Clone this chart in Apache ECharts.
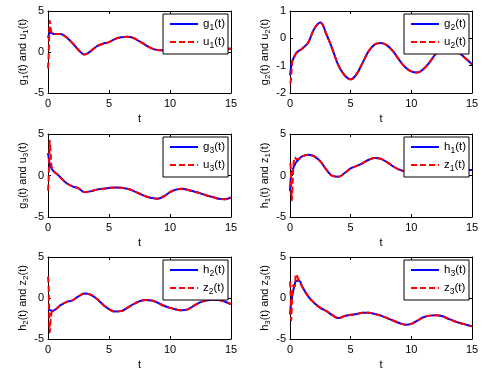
<!DOCTYPE html>
<html>
<head>
<meta charset="utf-8">
<script src="https://cdn.jsdelivr.net/npm/echarts@6/dist/echarts.min.js"></script>
<style>
html,body{margin:0;padding:0;background:#fff}
#main{width:488px;height:373px}
</style>
</head>
<body>
<div id="main"></div>
<script>
// time samples: dense near 0 for the start-up transients, then every 0.5
var tEarly = [0, 0.05, 0.1, 0.15, 0.2, 0.3, 0.4, 0.5, 0.75];
var tMain = [1, 1.5, 2, 2.5, 3, 3.5, 4, 4.5, 5, 5.5, 6, 6.5, 7, 7.5, 8, 8.5, 9, 9.5, 10,
             10.5, 11, 11.5, 12, 12.5, 13, 13.5, 14, 14.5, 15];

// g1 / u1
var g1Early = [1.7, 2.0, 2.3, 2.4, 2.35, 2.3, 2.25, 2.2, 2.2];
var u1Early = [-2.0, -0.5, 2.0, 3.8, 3.2, 2.3, 2.25, 2.2, 2.2];
var gu1Main = [2.2, 1.8, 1.1, 0.25, -0.3, 0.1, 0.7, 1.0, 1.2, 1.6, 1.8, 1.85, 1.7, 1.3, 0.85,
               0.45, 0.25, 0.2, 0.3, 0.5, 0.8, 1.0, 1.1, 1.0, 0.8, 0.6, 0.45, 0.4, 0.4];
// g2 / u2
var g2Early = [-1.35, -1.2, -1.0, -0.9, -0.82, -0.72, -0.63, -0.55, -0.45];
var u2Early = [-1.65, -1.6, -1.4, -1.0, -0.78, -0.72, -0.63, -0.55, -0.45];
var gu2Main = [-0.38, -0.15, 0.35, 0.58, 0.15, -0.4, -1.0, -1.35, -1.5, -1.3, -0.88, -0.46, -0.22,
               -0.17, -0.26, -0.48, -0.79, -1.06, -1.21, -1.25, -1.12, -0.88, -0.58, -0.4, -0.3,
               -0.35, -0.55, -0.75, -0.95];
// g3 / u3
var g3Early = [2.7, 2.2, 1.7, 1.3, 1.1, 0.8, 0.6, 0.45, 0.15];
var u3Early = [-1.8, -0.5, 2.0, 4.2, 3.0, 1.0, 0.7, 0.45, 0.15];
var gu3Main = [-0.2, -0.9, -1.3, -1.55, -2.0, -1.9, -1.7, -1.6, -1.5, -1.45, -1.48, -1.6, -1.85,
               -2.2, -2.5, -2.7, -2.8, -2.5, -2.0, -1.7, -1.6, -1.75, -1.95, -2.15, -2.4, -2.6,
               -2.8, -2.85, -2.65];
// h1 / z1
var h1Early = [-1.9, -0.6, 0.1, 0.4, 0.6, 1.0, 1.3, 1.6, 2.0];
var z1Early = [1.5, 1.2, -1.0, -3.0, -1.5, 1.5, 2.2, 2.0, 2.0];
var hz1Main = [2.3, 2.5, 2.3, 1.7, 0.7, -0.05, -0.15, 0.3, 0.85, 1.15, 1.5, 1.9, 2.1, 2.0, 1.6,
               1.1, 0.7, 0.5, 0.45, 0.6, 0.9, 1.2, 1.4, 1.4, 1.2, 1.0, 0.8, 0.7, 0.65];
// h2 / z2
var h2Early = [-1.4, -1.42, -1.45, -1.48, -1.5, -1.55, -1.55, -1.5, -1.25];
var z2Early = [2.6, 1.5, -2.0, -4.2, -3.0, -1.7, -1.6, -1.5, -1.25];
var hz2Main = [-0.9, -0.5, -0.3, 0.2, 0.55, 0.4, -0.1, -0.8, -1.35, -1.65, -1.6, -1.2, -0.75,
               -0.4, -0.25, -0.3, -0.6, -0.95, -1.2, -1.4, -1.5, -1.35, -0.9, -0.5, -0.3, -0.2,
               -0.25, -0.45, -0.75];
// h3 / z3
var h3Early = [-2.0, -1.2, -0.5, 0.0, 0.4, 1.1, 1.7, 2.1, 2.1];
var z3Early = [2.0, 0.5, -2.7, -1.0, 1.0, 1.6, 1.4, 2.9, 2.1];
var hz3Main = [1.4, 0.2, -0.6, -1.2, -1.6, -2.1, -2.45, -2.2, -2.05, -1.95, -1.8, -1.8, -1.95,
               -2.15, -2.45, -2.75, -3.05, -3.25, -3.15, -2.75, -2.35, -2.15, -2.1, -2.2, -2.5,
               -2.8, -3.05, -3.25, -3.45];

var xTicks = [0, 15, 5];          // min, max, interval
var yTicksWide = [-5, 5, 5];
var yTicksNarrow = [-2, 1, 1];

var panels = [
  {left: 48,  top: 11,  w: 183, h: 82, y: yTicksWide,   a: ['g', 'u'], k: '1', ge: g1Early, ue: u1Early, m: gu1Main},
  {left: 290, top: 11,  w: 182, h: 82, y: yTicksNarrow, a: ['g', 'u'], k: '2', ge: g2Early, ue: u2Early, m: gu2Main},
  {left: 48,  top: 134, w: 183, h: 83, y: yTicksWide,   a: ['g', 'u'], k: '3', ge: g3Early, ue: u3Early, m: gu3Main},
  {left: 290, top: 134, w: 182, h: 83, y: yTicksWide,   a: ['h', 'z'], k: '1', ge: h1Early, ue: z1Early, m: hz1Main},
  {left: 48,  top: 257, w: 183, h: 82, y: yTicksWide,   a: ['h', 'z'], k: '2', ge: h2Early, ue: z2Early, m: hz2Main},
  {left: 290, top: 257, w: 182, h: 82, y: yTicksWide,   a: ['h', 'z'], k: '3', ge: h3Early, ue: z3Early, m: hz3Main}
];

var FONT = 'Liberation Sans';
var rich = {
  b: {fontSize: 11, fontFamily: FONT, color: '#000'},
  s: {fontSize: 8, fontFamily: FONT, color: '#000', padding: [6, 0, 0, 0]}
};
var legendRich = {
  b: {fontSize: 11.5, fontFamily: FONT, color: '#000'},
  s: {fontSize: 8.5, fontFamily: FONT, color: '#000', padding: [7, 0, 0, 0]}
};

function pairs(ts, vs) {
  return ts.map(function (t, i) { return [t, vs[i]]; });
}

var grids = [], xAxes = [], yAxes = [], series = [], legends = [];

panels.forEach(function (p, i) {
  grids.push({left: p.left, top: p.top, width: p.w, height: p.h, containLabel: false});

  var base = {
    gridIndex: i,
    type: 'value',
    axisLine: {show: true, onZero: false, lineStyle: {color: '#000', width: 1}},
    axisTick: {show: true, inside: true, length: 3, lineStyle: {color: '#000'}},
    splitLine: {show: false}
  };
  // bottom x axis with labels
  xAxes.push(Object.assign({}, base, {
    position: 'bottom', min: xTicks[0], max: xTicks[1], interval: xTicks[2],
    axisLabel: {color: '#000', fontSize: 11, fontFamily: FONT, margin: 5},
    name: 't', nameLocation: 'middle', nameGap: 20,
    nameTextStyle: {color: '#000', fontSize: 11, fontFamily: FONT}
  }));
  // top x axis (box + mirrored ticks)
  xAxes.push(Object.assign({}, base, {
    position: 'top', min: xTicks[0], max: xTicks[1], interval: xTicks[2],
    axisLabel: {show: false}
  }));
  yAxes.push(Object.assign({}, base, {
    position: 'left', min: p.y[0], max: p.y[1], interval: p.y[2],
    axisLabel: {color: '#000', fontSize: 11, fontFamily: FONT, margin: 4},
    name: '{b|' + p.a[0] + '}{s|' + p.k + '}{b|(t) and ' + p.a[1] + '}{s|' + p.k + '}{b|(t)}',
    nameLocation: 'middle', nameGap: 18, nameRotate: 90,
    nameTextStyle: {rich: rich}
  }));
  yAxes.push(Object.assign({}, base, {
    position: 'right', min: p.y[0], max: p.y[1], interval: p.y[2],
    axisLabel: {show: false}
  }));

  var n1 = p.a[0] + p.k + '(t)';
  var n2 = p.a[1] + p.k + '(t)';
  series.push({
    name: n1, type: 'line', xAxisIndex: 2 * i, yAxisIndex: 2 * i,
    data: pairs(tEarly, p.ge).concat(pairs(tMain, p.m)),
    symbol: 'none', smooth: 0.4,
    lineStyle: {color: '#0000ff', width: 2}, itemStyle: {color: '#0000ff'}
  });
  series.push({
    name: n2, type: 'line', xAxisIndex: 2 * i, yAxisIndex: 2 * i,
    data: pairs(tEarly, p.ue).concat(pairs(tMain, p.m)),
    symbol: 'none', smooth: 0.4,
    lineStyle: {color: '#ff0000', width: 2, type: [6, 3]}, itemStyle: {color: '#ff0000'}
  });

  legends.push({
    data: [n1, n2], orient: 'vertical', selectedMode: false,
    right: 488 - (p.left + p.w) + 3, top: p.top + 3,
    itemWidth: 28, itemHeight: 14, itemGap: 4,
    padding: [4, 3, 4, 6],
    backgroundColor: '#fff', borderColor: '#000', borderWidth: 1, borderRadius: 0,
    z: 10,
    itemStyle: {opacity: 0},
    formatter: function (name) {
      return '{b|' + name.charAt(0) + '}{s|' + name.charAt(1) + '}{b|' + name.slice(2) + '}';
    },
    textStyle: {rich: legendRich}
  });
});

var myChart = echarts.init(document.getElementById('main'));
myChart.setOption({
  animation: false,
  backgroundColor: '#fff',
  grid: grids,
  xAxis: xAxes,
  yAxis: yAxes,
  legend: legends,
  series: series
});
</script>
</body>
</html>
